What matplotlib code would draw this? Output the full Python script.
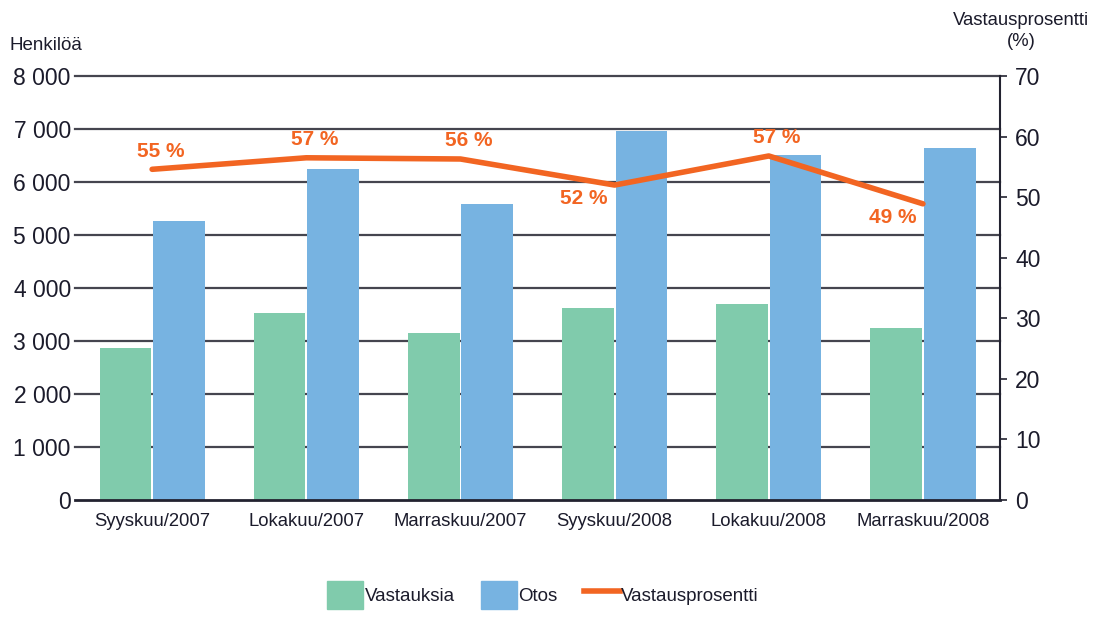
import numpy as np
import matplotlib.pyplot as plt
from matplotlib.patches import Patch
from matplotlib.lines import Line2D

plt.rcParams['font.family'] = ['Liberation Sans', 'DejaVu Sans']

kuukaudet = ['Syyskuu/2007', 'Lokakuu/2007', 'Marraskuu/2007',
             'Syyskuu/2008', 'Lokakuu/2008', 'Marraskuu/2008']
vastauksia = [2870, 3530, 3150, 3620, 3700, 3245]
otos = [5260, 6245, 5585, 6960, 6510, 6645]
prosentti = [54.6, 56.5, 56.3, 52.0, 56.8, 48.9]
prosentti_labels = ['55 %', '57 %', '56 %', '52 %', '57 %', '49 %']
label_below = [False, False, False, True, False, True]

green = '#80CBAC'
blue = '#77B3E1'
orange = '#F26522'
grid_c = '#45454f'
text_c = '#1b1b2b'

fig = plt.figure(figsize=(10.97, 6.2), dpi=100)
ax = fig.add_axes([0.0684, 0.1935, 0.8432, 0.6839])

x = np.arange(len(kuukaudet))
w = 0.335
ax.bar(x - w/2 - 0.006, vastauksia, width=w, color=green, zorder=2)
ax.bar(x + w/2 + 0.006, otos, width=w, color=blue, zorder=2)

ax.set_xlim(-0.5, 5.5)
ax.set_ylim(0, 8000)
ticks = np.arange(0, 8001, 1000)
ax.set_yticks(ticks)
ax.set_yticklabels([f'{v:,}'.replace(',', ' ') for v in ticks])
for t in ticks[1:]:
    ax.axhline(t, color=grid_c, linewidth=1.6, zorder=0, clip_on=False)
ax.set_xticks(x)
ax.set_xticklabels(kuukaudet)
ax.tick_params(axis='x', length=0, labelsize=13.3, pad=9, labelcolor=text_c)
ax.tick_params(axis='y', length=0, labelsize=16.5, pad=3, labelcolor=text_c)
for s in ['top', 'left', 'right']:
    ax.spines[s].set_visible(False)
ax.spines['bottom'].set_color('#222230')
ax.spines['bottom'].set_linewidth(2)

ax2 = ax.twinx()
ax2.set_ylim(0, 70)
ax2.set_yticks(np.arange(0, 71, 10))
ax2.plot(x, prosentti, color=orange, linewidth=4, solid_capstyle='round', zorder=5)
for xi, p, lab, below in zip(x, prosentti, prosentti_labels, label_below):
    if below:
        off = (-22, -10)
    else:
        off = (6, 13)
    ax2.annotate(lab, (xi, p), xytext=off, textcoords='offset points',
                 ha='center', va='center', color=orange, fontsize=15, fontweight='bold')
for s in ['top', 'left', 'bottom']:
    ax2.spines[s].set_visible(False)
ax2.spines['right'].set_color('#222230')
ax2.spines['right'].set_linewidth(1.5)
ax2.tick_params(axis='y', length=5, width=1.2, labelsize=16.5, pad=6,
                labelcolor=text_c, color='#222230')

fig.text(0.009, 0.927, 'Henkilöä', fontsize=13.5, color=text_c, va='center')
fig.text(0.931, 0.95, 'Vastausprosentti\n(%)', fontsize=13.3, color=text_c,
         ha='center', va='center', linespacing=1.25)

handles = [Patch(color=green, label='Vastauksia'),
           Patch(color=blue, label='Otos'),
           Line2D([0], [0], color=orange, linewidth=4, label='Vastausprosentti')]
fig.legend(handles=handles, loc='center', bbox_to_anchor=(0.495, 0.04), ncol=3,
           frameon=False, fontsize=13.5, handlelength=1.9, handleheight=1.9,
           handletextpad=0.1, columnspacing=1.4, labelcolor=text_c)

fig.savefig('out.png', dpi=100)
